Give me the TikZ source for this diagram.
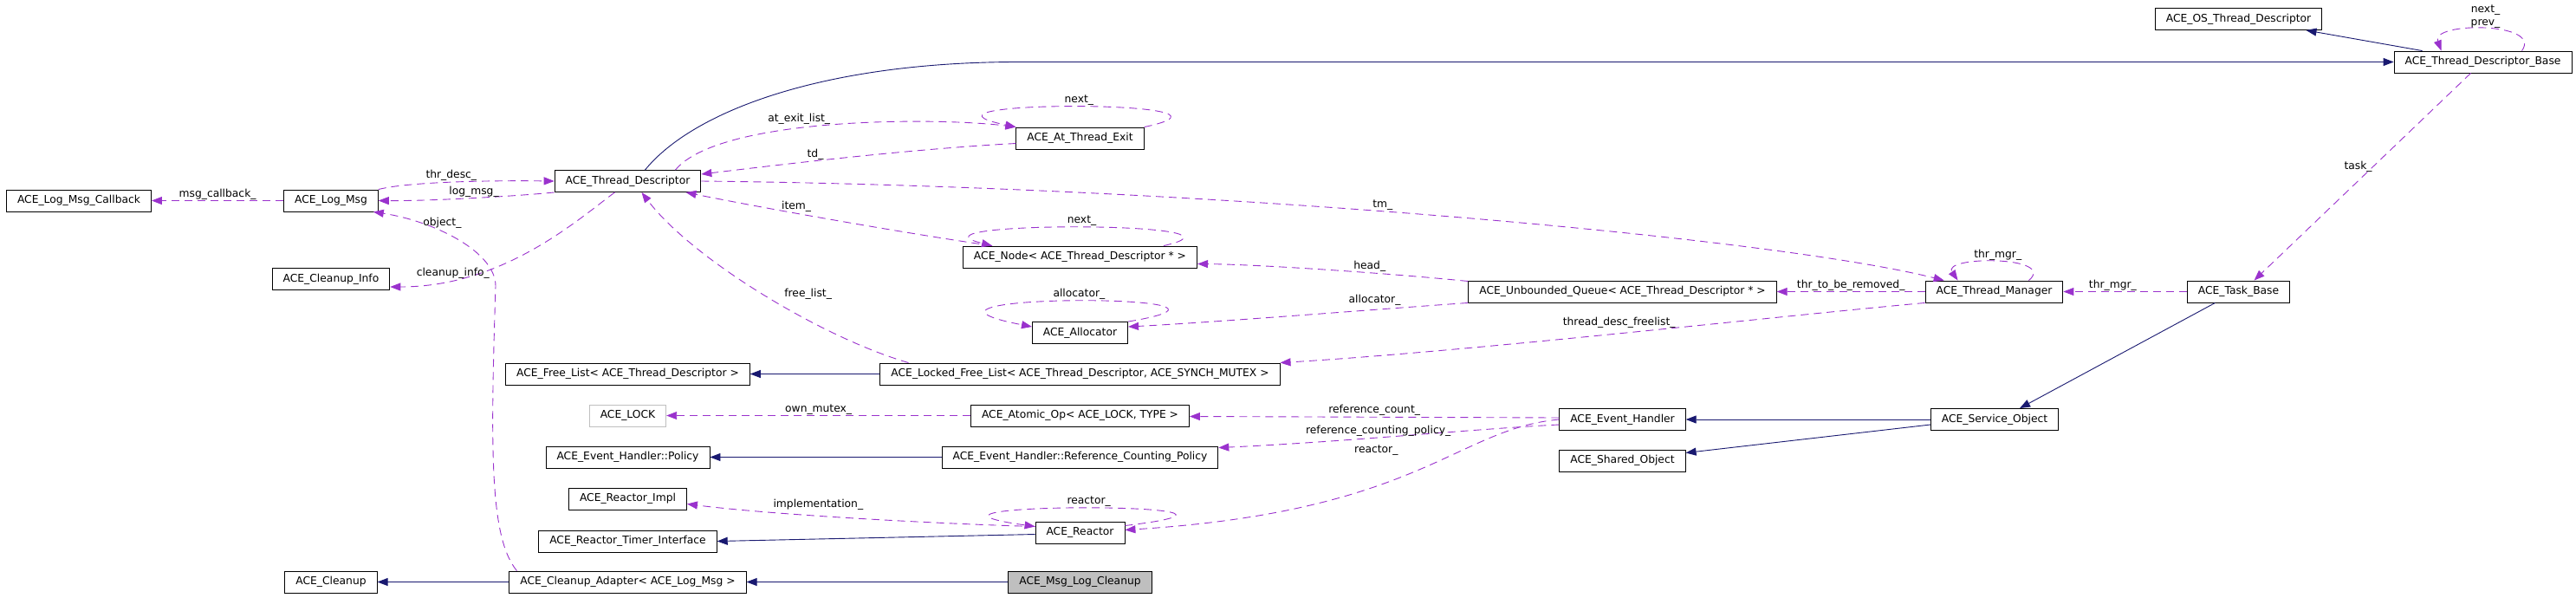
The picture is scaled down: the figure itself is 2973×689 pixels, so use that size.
\documentclass[tikz,border=0pt]{standalone}
\usepackage{fontspec}
\setmainfont{DejaVu Sans}
\usetikzlibrary{arrows.meta,positioning}
\definecolor{usecol}{HTML}{9A32CD}
\definecolor{inhcol}{HTML}{191970}
\definecolor{rootgray}{HTML}{BFBFBF}
\tikzset{
    >={Triangle[length=12pt,width=9pt]},
    font=\fontsize{12.3}{15}\selectfont,
    class box/.style={draw,rectangle,fill=white,line width=0.9pt,minimum height=25pt,inner xsep=12.5pt,inner ysep=0pt},
    root box/.style={class box,fill=rootgray},
    ghost box/.style={class box,draw=rootgray},
    uses/.style={->,draw=usecol,line width=0.9pt,dash pattern=on 9pt off 6pt},
    inherits/.style={->,draw=inhcol,line width=0.9pt},
    member/.style={inner sep=1pt,text=black}
}

\begin{document}
\begin{tikzpicture}[x=1pt,y=-1pt,on grid]
    \useasboundingbox (0,0) rectangle (2973,689);
    % classes
    \node[class box] (tdesc) at (724.5,209) {ACE\_Thread\_Descriptor};
    \node[class box] (logmsg) [below left = 22.5pt and 342.5pt of tdesc] {ACE\_Log\_Msg};
    \node[class box] (callback) [left = 291pt of logmsg] {ACE\_Log\_Msg\_Callback};
    \node[class box] (cleaninfo) [below = 90.5pt of logmsg] {ACE\_Cleanup\_Info};
    \node[class box] (atexit) [above right = 49.5pt and 522pt of tdesc] {ACE\_At\_Thread\_Exit};
    \node[class box] (tnode) [below = 137pt of atexit] {ACE\_Node< ACE\_Thread\_Descriptor * >};
    \node[class box] (alloc) [below = 87.5pt of tnode] {ACE\_Allocator};
    \node[class box] (lockedfl) [below = 47.5pt of alloc] {ACE\_Locked\_Free\_List< ACE\_Thread\_Descriptor, ACE\_SYNCH\_MUTEX >};
    \node[class box] (freelist) [left = 522pt of lockedfl] {ACE\_Free\_List< ACE\_Thread\_Descriptor >};
    \node[class box] (atomic) [below = 48pt of lockedfl] {ACE\_Atomic\_Op< ACE\_LOCK, TYPE >};
    \node[ghost box] (acelock) [left = 522pt of atomic] {ACE\_LOCK};
    \node[class box] (refpolicy) [below = 48pt of atomic] {ACE\_Event\_Handler::Reference\_Counting\_Policy};
    \node[class box] (policy) [left = 522pt of refpolicy] {ACE\_Event\_Handler::Policy};
    \node[class box] (reactor) [below = 87pt of refpolicy] {ACE\_Reactor};
    \node[class box] (rimpl) [above left = 39pt and 522pt of reactor] {ACE\_Reactor\_Impl};
    \node[class box] (rtimer) [below = 49pt of rimpl] {ACE\_Reactor\_Timer\_Interface};
    \node[root box] (msgclean) [below = 57pt of reactor] {ACE\_Msg\_Log\_Cleanup};
    \node[class box] (adapter) [left = 522pt of msgclean] {ACE\_Cleanup\_Adapter< ACE\_Log\_Msg >};
    \node[class box] (cleanup) [left = 342.5pt of adapter] {ACE\_Cleanup};
    \node[class box] (queue) [below right = 40pt and 626pt of tnode] {ACE\_Unbounded\_Queue< ACE\_Thread\_Descriptor * >};
    \node[class box] (tmgr) [right = 429pt of queue] {ACE\_Thread\_Manager};
    \node[class box] (taskbase) [right = 282pt of tmgr] {ACE\_Task\_Base};
    \node[class box] (evhandler) [below = 147.5pt of queue] {ACE\_Event\_Handler};
    \node[class box] (shared) [below = 47.5pt of evhandler] {ACE\_Shared\_Object};
    \node[class box] (service) [right = 429.5pt of evhandler] {ACE\_Service\_Object};
    \node[class box] (osdesc) [above = 314.5pt of taskbase] {ACE\_OS\_Thread\_Descriptor};
    \node[class box] (tdbase) [above right = 265pt and 282pt of taskbase] {ACE\_Thread\_Descriptor\_Base};
    % straight connectors
    \path
        (logmsg.west) edge [uses] node [member, above] {msg\_callback\_} (callback.east)
        ([xshift=-70pt]tdbase.north) edge [inherits] ([xshift=78pt]osdesc.south)
        ([xshift=-14pt]tdbase.south) edge [uses] node [member, pos=.45, left] {task\_} ([xshift=18pt]taskbase.north)
        (lockedfl.west) edge [inherits] (freelist.east)
        (tmgr.west) edge [uses] node [member, above] {thr\_to\_be\_removed\_} (queue.east)
        (taskbase.west) edge [uses] node [member, pos=.6, above] {thr\_mgr\_} (tmgr.east)
        ([xshift=-27pt]taskbase.south) edge [inherits] ([xshift=29pt]service.north)
        (service.west) edge [inherits] (evhandler.east)
        ([yshift=-6pt]service.west) edge [inherits] ([yshift=9pt]shared.east)
        ([yshift=2pt]evhandler.west) edge [uses] node [member, above] {reference\_count\_} ([yshift=-1pt]atomic.east)
        ([yshift=-2pt]reactor.west) edge [inherits] (rtimer.east)
        (refpolicy.west) edge [inherits] (policy.east)
        (atomic.west) edge [uses] node [member, above] {own\_mutex\_} (acelock.east)
        (msgclean.west) edge [inherits] (adapter.east)
        (adapter.west) edge [inherits] (cleanup.east)
        ;
    % curved connectors
    \draw[inherits] ([xshift=20pt]tdesc.north) .. controls (800,128) and (950,72) .. (tdbase.west -| atexit.west) -- (tdbase.west);
    \draw[uses] ([xshift=45pt]tdbase.north) .. controls (2935,25) and (2805,25) .. node [member, above, align=center] {next\_\\prev\_} ([xshift=-48pt]tdbase.north);
    \draw[uses] ([xshift=55pt]tdesc.north) .. controls (830,135) and (1080,135) .. node [member, pos=.42, above=3pt] {at\_exit\_list\_} (atexit.north west);
    \draw[uses] (atexit.north east) .. controls (1470,115) and (1020,115) .. node [member, above] {next\_} (atexit.north west);
    \draw[uses] ([yshift=-6pt]atexit.west) .. controls (1050,172) and (900,190) .. node [member, pos=.6, above] {td\_} ([yshift=8pt]tdesc.east);
    \draw[uses] (tdesc.east) .. controls (1400,215) and (2050,275) .. node [member, pos=.45, above] {tm\_} ([xshift=22pt]tmgr.north west);
    \draw[uses] (logmsg.north east) .. controls (470,210) and (560,208) .. node [member, above] {thr\_desc\_} (tdesc.west);
    \draw[uses] (tdesc.south west) .. controls (600,226) and (500,232) .. node [member, above] {log\_msg\_} (logmsg.east);
    \draw[uses] ([xshift=-15pt]tdesc.south) .. controls (665,255) and (580,331) .. node [member, pos=.8, above] {cleanup\_info\_} ([yshift=-9pt]cleaninfo.east);
    \draw[uses] ([xshift=9pt]adapter.north west) .. controls (565,620) and (566,520) .. (572,330) .. controls (572,290) and (500,255) .. node [member, pos=.6, above=3pt] {object\_} ([xshift=-6pt]logmsg.south east);
    \draw[uses] ([xshift=34pt]tnode.north west) .. controls (1050,270) and (880,240) .. node [member, pos=.62, above] {item\_} ([xshift=67pt]tdesc.south);
    \draw[uses] ([xshift=-39pt]tnode.north east) .. controls (1470,255) and (1030,255) .. node [member, above] {next\_} ([xshift=34pt]tnode.north west);
    \draw[uses] ([yshift=12pt]queue.west) .. controls (1600,315) and (1450,305) .. node [member, pos=.35, above] {head\_} ([yshift=-8pt]tnode.east);
    \draw[uses] (queue.south west) .. controls (1600,356) and (1400,372) .. node [member, pos=.3, above=4pt] {allocator\_} ([yshift=7pt]alloc.east);
    \draw[uses] (alloc.north east) .. controls (1500,338) and (990,338) .. node [member, above] {allocator\_} ([yshift=7pt]alloc.west);
    \draw[uses] ([xshift=-198pt]lockedfl.north) .. controls (950,390) and (800,300) .. node [member, pos=.5, right=24pt] {free\_list\_} ([xshift=16pt]tdesc.south);
    \draw[uses] (tmgr.south west) .. controls (2050,365) and (1700,405) .. node [member, pos=.5, above=5pt] {thread\_desc\_freelist\_} (lockedfl.north east);
    \draw[uses] ([xshift=40pt]tmgr.north) .. controls (2375,295) and (2240,295) .. node [member, above] {thr\_mgr\_} ([xshift=-42pt]tmgr.north);
    \draw[uses] ([yshift=-6pt]evhandler.west) .. controls (1700,495) and (1550,510) .. node [member, pos=.57, above] {reference\_counting\_policy\_} ([yshift=-2pt]refpolicy.north east);
    \draw[uses] (evhandler.west) .. controls (1680,495) and (1640,590) .. node [member, pos=.35, left=72pt] {reactor\_} ([yshift=3pt]reactor.east);
    \draw[uses] ([yshift=8pt]reactor.east) .. controls (1530,579) and (990,579) .. node [member, above] {reactor\_} ([yshift=7pt]reactor.west);
    \draw[uses] ([yshift=7pt]reactor.west) .. controls (1100,605) and (900,595) .. node [member, pos=.62, above=5pt] {implementation\_} ([yshift=-6pt]rimpl.east);
\end{tikzpicture}
\end{document}
